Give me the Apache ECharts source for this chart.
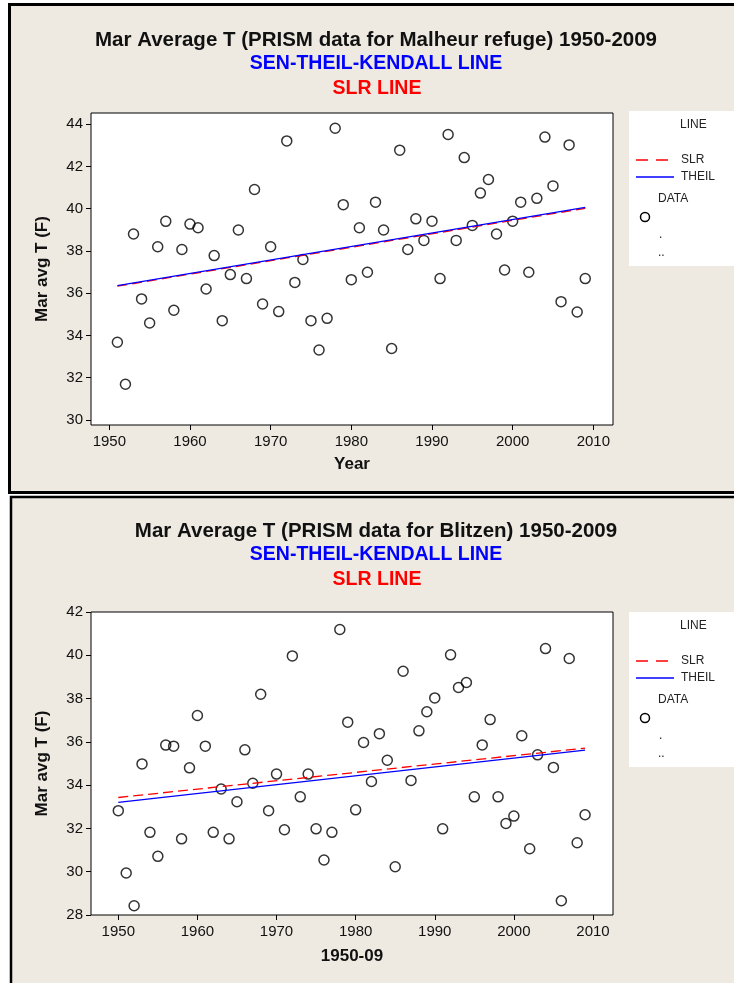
<!DOCTYPE html>
<html>
<head>
<meta charset="utf-8">
<script src="https://cdn.jsdelivr.net/npm/echarts@6/dist/echarts.min.js"></script>
<style>
  html, body { margin: 0; padding: 0; background: #ffffff; }
  #chart { width: 734px; height: 983px; }
</style>
</head>
<body>
<div id="chart"></div>
<script>
// Malheur refuge, March average T (F)
const malheurYears = [1951, 1952, 1953, 1954, 1955, 1956, 1957, 1958, 1959, 1960,
  1961, 1962, 1963, 1964, 1965, 1966, 1967, 1968, 1969, 1970,
  1971, 1972, 1973, 1974, 1975, 1976, 1977, 1978, 1979, 1980,
  1981, 1982, 1983, 1984, 1985, 1986, 1987, 1988, 1989, 1990,
  1991, 1992, 1993, 1994, 1995, 1996, 1997, 1998, 1999, 2000,
  2001, 2002, 2003, 2004, 2005, 2006, 2007, 2008, 2009];
const malheurTemps = [33.68, 31.69, 38.80, 35.73, 34.59, 38.20, 39.40, 35.19, 38.07, 39.27,
  39.10, 36.20, 37.78, 34.70, 36.88, 38.99, 36.69, 40.91, 35.49, 38.20,
  35.13, 43.21, 36.51, 37.60, 34.70, 33.31, 34.81, 43.81, 40.19, 36.64,
  39.10, 36.99, 40.31, 38.99, 33.38, 42.77, 38.07, 39.52, 38.50, 39.41,
  36.69, 43.51, 38.50, 42.42, 39.21, 40.74, 41.38, 38.80, 37.10, 39.41,
  40.31, 36.99, 40.49, 43.39, 41.08, 35.60, 43.02, 35.11, 36.69];
const malheurSlr = [[1951, 36.33], [2009, 40.02]];
const malheurTheil = [[1951, 36.36], [2009, 40.06]];

// Blitzen, March average T (F)
const blitzenYears = [1950, 1951, 1952, 1953, 1954, 1955, 1956, 1957, 1958, 1959,
  1960, 1961, 1962, 1963, 1964, 1965, 1966, 1967, 1968, 1969,
  1970, 1971, 1972, 1973, 1974, 1975, 1976, 1977, 1978, 1979,
  1980, 1981, 1982, 1983, 1984, 1985, 1986, 1987, 1988, 1989,
  1990, 1991, 1992, 1993, 1994, 1995, 1996, 1997, 1998, 1999,
  2000, 2001, 2002, 2003, 2004, 2005, 2006, 2007, 2008, 2009];
const blitzenTemps = [32.82, 29.94, 28.43, 34.98, 31.82, 30.71, 35.85, 35.80, 31.52, 34.80,
  37.22, 35.80, 31.82, 33.82, 31.52, 33.23, 35.63, 34.09, 38.20, 32.82,
  34.51, 31.94, 39.97, 33.46, 34.51, 31.98, 30.54, 31.82, 41.19, 36.91,
  32.86, 35.97, 34.17, 36.38, 35.15, 30.23, 39.26, 34.22, 36.51, 37.39,
  38.03, 31.98, 40.02, 38.51, 38.74, 33.46, 35.86, 37.03, 33.46, 32.23,
  32.57, 36.28, 31.06, 35.40, 40.31, 34.82, 28.66, 39.85, 31.34, 32.63];
const blitzenSlr = [[1950, 33.43], [2009, 35.71]];
const blitzenTheil = [[1950, 33.20], [2009, 35.62]];

const yearTicks = [1950, 1960, 1970, 1980, 1990, 2000, 2010];
const malheurTempTicks = [30, 32, 34, 36, 38, 40, 42, 44];

const chart = echarts.init(document.getElementById("chart"));

const FONT = "Liberation Sans";
const panelBg = "#EEEAE1";

function pairs(xs, ys) {
  return xs.map((x, i) => [x, ys[i]]);
}

function headerTexts(y0, title) {
  return [
    {
      type: "text", x: 376, y: y0, z: 5,
      style: { text: title, fill: "#111", font: `bold 20.5px "${FONT}"`, textAlign: "center", textVerticalAlign: "middle" },
    },
    {
      type: "text", x: 376, y: y0 + 24, z: 5,
      style: { text: "SEN-THEIL-KENDALL LINE", fill: "#0000ff", font: `bold 19.5px "${FONT}"`, textAlign: "center", textVerticalAlign: "middle" },
    },
    {
      type: "text", x: 377, y: y0 + 49, z: 5,
      style: { text: "SLR LINE", fill: "#ff0000", font: `bold 19.5px "${FONT}"`, textAlign: "center", textVerticalAlign: "middle" },
    },
  ];
}

function legendBox(y0) {
  const small = `12px "${FONT}"`;
  return [
    { type: "rect", z: 1, shape: { x: 629, y: y0, width: 110, height: 155 }, style: { fill: "#ffffff" } },
    { type: "text", z: 5, x: 680, y: y0 + 14, style: { text: "LINE", font: small, fill: "#222", textVerticalAlign: "middle" } },
    { type: "line", z: 5, shape: { x1: 636, y1: y0 + 49, x2: 670, y2: y0 + 49 }, style: { stroke: "#ff0000", lineWidth: 1.3, lineDash: [12, 8] } },
    { type: "text", z: 5, x: 681, y: y0 + 49, style: { text: "SLR", font: small, fill: "#222", textVerticalAlign: "middle" } },
    { type: "line", z: 5, shape: { x1: 636, y1: y0 + 66, x2: 674, y2: y0 + 66 }, style: { stroke: "#0000ff", lineWidth: 1.3 } },
    { type: "text", z: 5, x: 681, y: y0 + 66, style: { text: "THEIL", font: small, fill: "#222", textVerticalAlign: "middle" } },
    { type: "text", z: 5, x: 658, y: y0 + 88, style: { text: "DATA", font: small, fill: "#222", textVerticalAlign: "middle" } },
    { type: "circle", z: 5, shape: { cx: 645, cy: y0 + 106, r: 4.5 }, style: { fill: "none", stroke: "#000", lineWidth: 1.5 } },
    { type: "text", z: 5, x: 659, y: y0 + 124, style: { text: ".", font: small, fill: "#222", textVerticalAlign: "middle" } },
    { type: "text", z: 5, x: 658, y: y0 + 142, style: { text: "..", font: small, fill: "#222", textVerticalAlign: "middle" } },
  ];
}

const tickLabel = { color: "#111", fontSize: 15, fontFamily: FONT };
const axisName = { color: "#111", fontSize: 17, fontWeight: "bold", fontFamily: FONT };

function xAxisFor(gridIndex, min, max, name, gap) {
  return {
    type: "value", gridIndex, min, max, name,
    nameLocation: "middle", nameGap: gap, nameTextStyle: axisName,
    axisLine: { show: false },
    axisTick: { show: true, length: 5, lineStyle: { color: "#000" }, customValues: yearTicks },
    axisLabel: { ...tickLabel, margin: 9, customValues: yearTicks, formatter: (v) => String(v) },
    splitLine: { show: false },
  };
}

function yAxisFor(gridIndex, min, max, extra) {
  return {
    type: "value", gridIndex, min, max,
    name: "Mar avg T (F)", nameLocation: "middle", nameRotate: 90, nameGap: 40, nameTextStyle: axisName,
    axisLine: { show: false },
    axisTick: { show: true, length: 5, lineStyle: { color: "#000" }, ...(extra.ticks ? { customValues: extra.ticks } : {}) },
    axisLabel: { ...tickLabel, margin: 8, ...(extra.ticks ? { customValues: extra.ticks } : {}) },
    splitLine: { show: false },
    ...(extra.interval ? { interval: extra.interval } : {}),
  };
}

const scatterStyle = {
  type: "scatter", symbol: "circle", symbolSize: 10,
  itemStyle: { color: "rgba(255,255,255,0)", borderColor: "#000", borderWidth: 1.5 },
  z: 3,
};

function slr(data, xi) {
  return {
    type: "line", xAxisIndex: xi, yAxisIndex: xi, data, showSymbol: false, z: 4,
    lineStyle: { color: "#ff0000", width: 1.3, type: [10, 5] },
  };
}
function theil(data, xi) {
  return {
    type: "line", xAxisIndex: xi, yAxisIndex: xi, data, showSymbol: false, z: 5,
    lineStyle: { color: "#0000ff", width: 1.3 },
  };
}

chart.setOption({
  animation: false,
  graphic: [
    { type: "rect", z: -10, shape: { x: 9.5, y: 4.5, width: 740, height: 488 }, style: { fill: panelBg, stroke: "#000", lineWidth: 3 } },
    { type: "rect", z: -10, shape: { x: 11, y: 497, width: 740, height: 490 }, style: { fill: panelBg, stroke: "#000", lineWidth: 2.5 } },
    ...headerTexts(40, "Mar Average T (PRISM data for Malheur refuge) 1950-2009"),
    ...headerTexts(531, "Mar Average T (PRISM data for Blitzen) 1950-2009"),
    ...legendBox(111),
    ...legendBox(612),
  ],
  grid: [
    { left: 91, top: 113, width: 522, height: 312, show: true, backgroundColor: "#fff", borderColor: "#000", borderWidth: 1 },
    { left: 91, top: 612, width: 522, height: 303, show: true, backgroundColor: "#fff", borderColor: "#000", borderWidth: 1 },
  ],
  xAxis: [
    xAxisFor(0, 1947.73, 2012.44, "Year", 31),
    xAxisFor(1, 1946.55, 2012.53, "1950-09", 33),
  ],
  yAxis: [
    yAxisFor(0, 29.76, 44.53, { ticks: malheurTempTicks }),
    yAxisFor(1, 28, 42, { interval: 2 }),
  ],
  series: [
    slr(malheurSlr, 0),
    theil(malheurTheil, 0),
    { ...scatterStyle, xAxisIndex: 0, yAxisIndex: 0, data: pairs(malheurYears, malheurTemps) },
    slr(blitzenSlr, 1),
    theil(blitzenTheil, 1),
    { ...scatterStyle, xAxisIndex: 1, yAxisIndex: 1, data: pairs(blitzenYears, blitzenTemps) },
  ],
});
</script>
</body>
</html>
